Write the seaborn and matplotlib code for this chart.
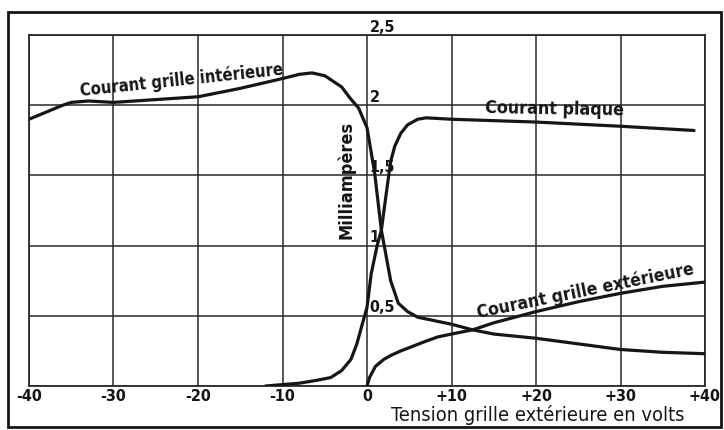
import matplotlib
matplotlib.use("Agg")
import matplotlib.pyplot as plt
from matplotlib.patches import Rectangle
import seaborn as sns
import pandas as pd

# ---- data ----
inner_x = [-40, -38, -36, -35, -33, -30, -25, -20, -15, -10, -8, -6.5, -5, -3, -2, -1, 0,
           0.9, 1.7, 2.8, 3.7, 4.8, 6, 8.4, 10, 12.5, 15, 20, 25, 30, 35, 40]
inner_y = [1.90, 1.95, 2.00, 2.02, 2.03, 2.02, 2.04, 2.06, 2.12, 2.19, 2.22, 2.23, 2.21, 2.13,
           2.05, 1.98, 1.84, 1.52, 1.11, 0.75, 0.59, 0.53, 0.49, 0.46, 0.44, 0.40, 0.37, 0.34,
           0.30, 0.26, 0.24, 0.23]

plate_x = [-12, -10, -8, -6, -4.3, -3, -1.9, -1.2, -0.7, 0, 0.5, 1.2, 1.7, 2.3, 2.8, 3.3, 4,
           4.8, 6, 7, 10, 20, 30, 38.7]
plate_y = [0.0, 0.01, 0.02, 0.04, 0.06, 0.11, 0.19, 0.30, 0.41, 0.56, 0.80, 1.00, 1.11, 1.38,
           1.60, 1.71, 1.80, 1.86, 1.90, 1.91, 1.90, 1.88, 1.85, 1.82]

outer_x = [0, 0.3, 1, 2, 2.9, 4, 5.3, 7, 8.4, 10, 12.5, 15, 20, 25, 30, 35, 40]
outer_y = [0.0, 0.06, 0.14, 0.19, 0.22, 0.25, 0.28, 0.32, 0.35, 0.37, 0.40, 0.45, 0.53, 0.60,
           0.66, 0.71, 0.74]

x_ticks = [-40, -30, -20, -10, 0, 10, 20, 30, 40]
x_tick_labels = ["-40", "-30", "-20", "-10", "0", "+10", "+20", "+30", "+40"]
y_ticks = [0, 0.5, 1, 1.5, 2, 2.5]
y_tick_labels = ["", "0,5", "1", "1,5", "2", "2,5"]

curve_names = ["Courant grille intérieure", "Courant plaque", "Courant grille extérieure"]
y_axis_label = "Milliampères"
x_axis_label = "Tension grille extérieure en volts"

# ---- style ----
sns.set_style("white")
plt.rcParams["font.family"] = ["DejaVu Sans"]
plt.rcParams["font.stretch"] = "condensed"
ink = "#161616"

fig = plt.figure(figsize=(7.24, 4.30), dpi=100)
fig.patch.set_facecolor("white")
ax = fig.add_axes([29 / 724, 44 / 430, 676 / 724, 351 / 430])

for xs, ys in [(inner_x, inner_y), (plate_x, plate_y), (outer_x, outer_y)]:
    df = pd.DataFrame({"x": xs, "y": ys})
    sns.lineplot(data=df, x="x", y="y", ax=ax, color=ink, linewidth=2.3,
                 estimator=None, sort=False, zorder=3)

ax.set_xlim(-40, 40)
ax.set_ylim(0, 2.5)
ax.set_xticks(x_ticks)
ax.set_xticklabels(x_tick_labels, fontsize=11.5, fontweight="bold",
                   stretch="condensed", color=ink)
ax.set_yticks(y_ticks)
ax.set_yticklabels([])
ax.tick_params(length=0, pad=2.5)
ax.set_xlabel("")
ax.set_ylabel("")
ax.grid(True, color="#2a2a2a", linewidth=1.1)
for s in ax.spines.values():
    s.set_visible(True)
    s.set_color("#2a2a2a")
    s.set_linewidth(1.3)

for v, lab in zip(y_ticks, y_tick_labels):
    if lab:
        ax.annotate(lab, (0, v), xytext=(2, 0.3), textcoords="offset points",
                    ha="left", va="bottom", fontsize=11.5, fontweight="bold",
                    color=ink, zorder=4)

ax.text(-2.5, 1.47, y_axis_label, rotation=90, ha="center", va="center",
        fontsize=13, fontweight="bold", color=ink, zorder=4)
ax.text(-22.0, 2.18, curve_names[0], rotation=6, ha="center", va="center",
        fontsize=11.9, fontweight="bold", color=ink, rotation_mode="anchor", zorder=4)
ax.text(22.2, 1.97, curve_names[1], rotation=-1, ha="center", va="center",
        fontsize=12.8, fontweight="bold", color=ink, rotation_mode="anchor", zorder=4)
ax.text(25.9, 0.68, curve_names[2], rotation=11.5, ha="center", va="center",
        fontsize=12.6, fontweight="bold", color=ink, rotation_mode="anchor", zorder=4)
ax.annotate(x_axis_label, (20.2, 0), xytext=(0, -25.5), textcoords="offset points",
            ha="center", va="baseline", fontsize=14.4, color=ink,
            annotation_clip=False)

fig.patches.append(Rectangle((8 / 724, 3 / 430), 713 / 724, 415 / 430,
                             transform=fig.transFigure, fill=False,
                             linewidth=2.0, edgecolor=ink))

fig.savefig("out.png", dpi=100, facecolor="white")
